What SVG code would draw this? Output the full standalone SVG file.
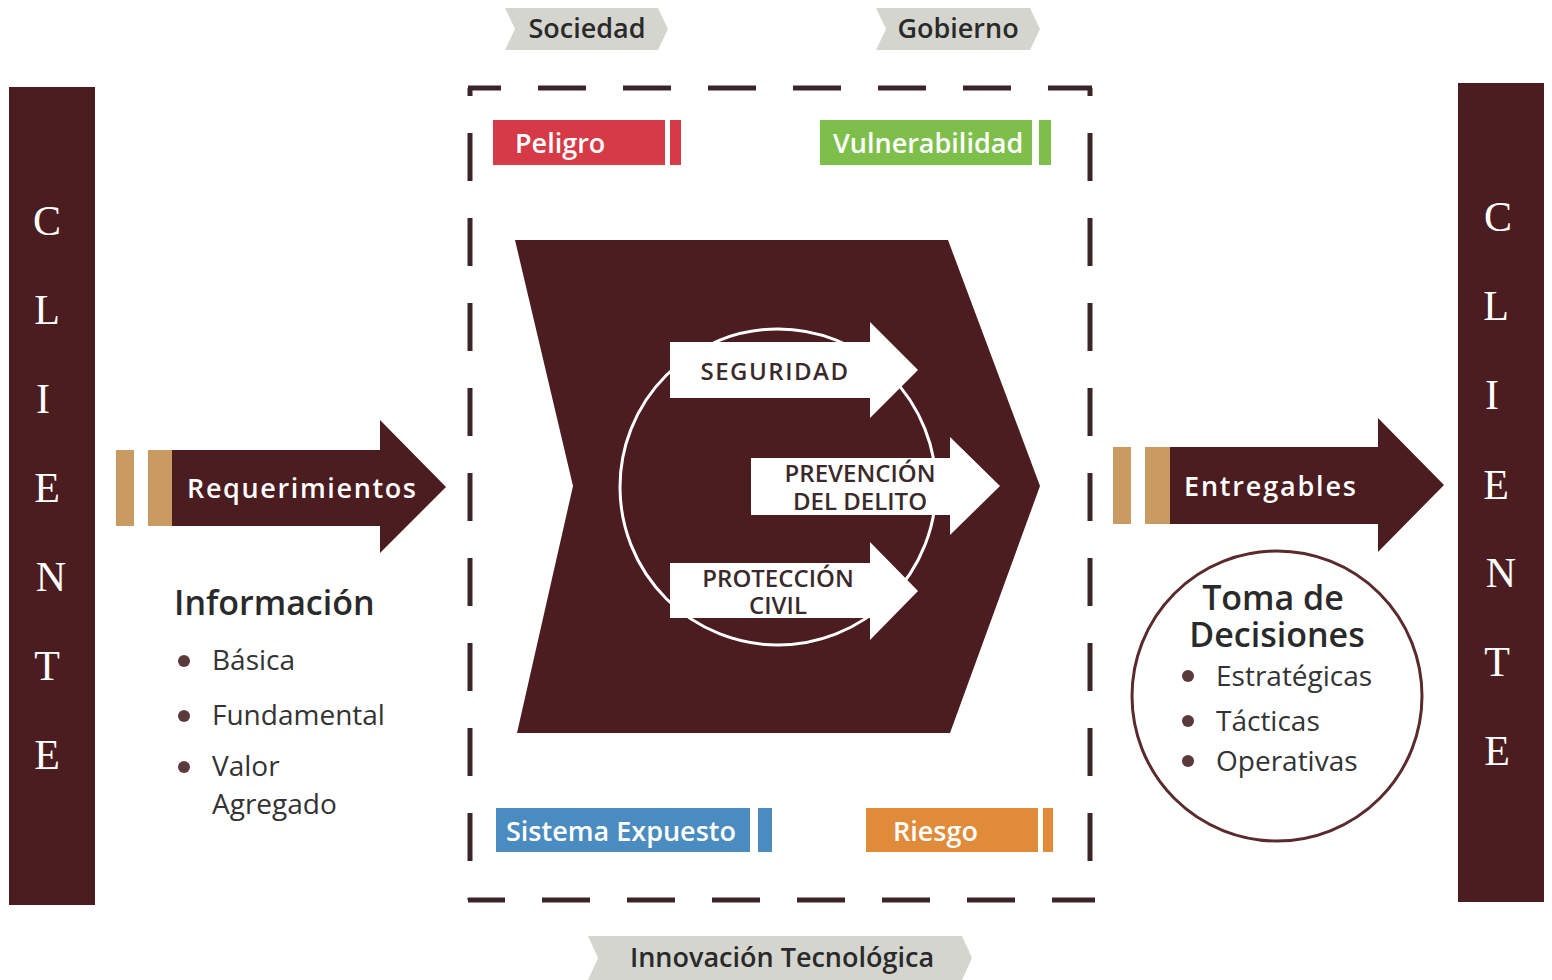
<svg xmlns="http://www.w3.org/2000/svg" width="1552" height="980" viewBox="0 0 1552 980">
<style>
.bar{fill:#4b1c20}
.cl{font-family:"Liberation Serif",serif;font-size:42px;fill:#fff;text-anchor:middle}
.tag{fill:#d5d5cf}
.tagt{font-family:"Open Sans","Liberation Sans",sans-serif;font-weight:600;font-size:27px;fill:#2a2a2a;text-anchor:middle}
.box{font-family:"Open Sans","Liberation Sans",sans-serif;font-weight:600;font-size:27px;fill:#fff}
.dash{fill:none;stroke:#3b2528;stroke-width:5;stroke-dasharray:48 37;stroke-linecap:butt}
.wa{fill:#fff}
.wt{font-family:"Open Sans","Liberation Sans",sans-serif;font-weight:600;font-size:24px;fill:#3a2a2b;text-anchor:middle}
.big{fill:#4b1c20}
.tan{fill:#c99a62}
.head{font-family:"Open Sans","Liberation Sans",sans-serif;font-weight:600;font-size:34px;fill:#2a2a2a}
.item{font-family:"Open Sans","Liberation Sans",sans-serif;font-size:28px;fill:#333}
.dot{fill:#5a3a3d}
</style>

<g id="cliente-left">
<rect class="bar" x="9" y="87" width="86" height="818"/>
<text class="cl" x="47" y="235">C</text>
<text class="cl" x="47" y="324">L</text>
<text class="cl" x="43" y="413">I</text>
<text class="cl" x="47" y="502">E</text>
<text class="cl" x="51" y="591">N</text>
<text class="cl" x="47" y="680">T</text>
<text class="cl" x="47" y="769">E</text>
</g>

<g id="cliente-right">
<rect class="bar" x="1458" y="83" width="86" height="819"/>
<text class="cl" x="1498" y="231">C</text>
<text class="cl" x="1496" y="320">L</text>
<text class="cl" x="1492" y="409">I</text>
<text class="cl" x="1496" y="499">E</text>
<text class="cl" x="1501" y="587">N</text>
<text class="cl" x="1497" y="676">T</text>
<text class="cl" x="1497" y="765">E</text>
</g>

<g id="sociedad">
<polygon class="tag" points="505,8 658,8 668,29 658,50 505,50 515,29"/>
<text class="tagt" x="587" y="38">Sociedad</text>
</g>
<g id="gobierno">
<polygon class="tag" points="876,8 1030,8 1040,29 1030,50 876,50 886,29"/>
<text class="tagt" x="958" y="38">Gobierno</text>
</g>
<g id="innovacion">
<polygon class="tag" points="588,936 962,936 972,958 962,980 588,980 598,958"/>
<text class="tagt" x="782" y="967">Innovación Tecnológica</text>
</g>

<g id="frame">
<path class="dash" d="M468,88 H1092" stroke-dashoffset="15"/>
<path class="dash" d="M470,88 V900" stroke-dashoffset="40"/>
<path class="dash" d="M1090,88 V900" stroke-dashoffset="40"/>
<path class="dash" d="M468,900 H1095" stroke-dashoffset="11"/>
</g>

<g id="peligro">
<rect x="493" y="120" width="172" height="45" fill="#d63a47"/>
<rect x="670" y="120" width="11" height="45" fill="#d63a47"/>
<text class="box" x="515" y="153">Peligro</text>
</g>
<g id="vulnerabilidad">
<rect x="820" y="120" width="212" height="45" fill="#7dbf4a"/>
<rect x="1039" y="120" width="12" height="45" fill="#7dbf4a"/>
<text class="box" x="833" y="153">Vulnerabilidad</text>
</g>
<g id="sistema-expuesto">
<rect x="496" y="808" width="254" height="44" fill="#4a8cc0"/>
<rect x="758" y="808" width="14" height="44" fill="#4a8cc0"/>
<text class="box" x="506" y="841">Sistema Expuesto</text>
</g>
<g id="riesgo">
<rect x="866" y="808" width="172" height="44" fill="#e08b3a"/>
<rect x="1043" y="808" width="10" height="44" fill="#e08b3a"/>
<text class="box" x="893" y="841">Riesgo</text>
</g>

<g id="proceso">
<polygon class="big" points="515,240 948,240 1040,486 950,733 517,733 573,486"/>
<circle cx="778" cy="487" r="158" fill="none" stroke="#fff" stroke-width="3"/>
</g>

<g id="seguridad">
<polygon class="wa" points="670,342 870,342 870,322 918,370 870,418 870,398 670,398"/>
<text class="wt" x="775" y="380" letter-spacing="1.5">SEGURIDAD</text>
</g>
<g id="prevencion">
<polygon class="wa" points="751,458 950,458 950,437 1000,486 950,535 950,515 751,515"/>
<text class="wt" x="860" y="482">PREVENCIÓN</text>
<text class="wt" x="860" y="510">DEL DELITO</text>
</g>
<g id="proteccion">
<polygon class="wa" points="670,563 870,563 870,542 918,591 870,640 870,618 670,618"/>
<text class="wt" x="778" y="587">PROTECCIÓN</text>
<text class="wt" x="778" y="614">CIVIL</text>
</g>

<g id="requerimientos">
<rect class="tan" x="116" y="450" width="18" height="76"/>
<rect class="tan" x="148" y="450" width="25" height="76"/>
<polygon class="big" points="172,450 380,450 380,420 446,487 380,553 380,526 172,526"/>
<text class="box" x="187" y="498" font-size="33" textLength="229" lengthAdjust="spacing">Requerimientos</text>
</g>

<g id="informacion">
<text class="head" x="174" y="615">Información</text>
<circle class="dot" cx="184" cy="661" r="6"/>
<circle class="dot" cx="184" cy="716" r="6"/>
<circle class="dot" cx="184" cy="767" r="6"/>
<text class="item" x="212" y="670">Básica</text>
<text class="item" x="212" y="725">Fundamental</text>
<text class="item" x="212" y="776">Valor</text>
<text class="item" x="212" y="814">Agregado</text>
</g>

<g id="entregables">
<rect class="tan" x="1113" y="447" width="18" height="77"/>
<rect class="tan" x="1145" y="447" width="26" height="77"/>
<polygon class="big" points="1170,447 1378,447 1378,418 1444,485 1378,552 1378,524 1170,524"/>
<text class="box" x="1184" y="496" font-size="33" textLength="172" lengthAdjust="spacing">Entregables</text>
</g>

<g id="toma-decisiones">
<circle cx="1277" cy="696" r="145" fill="#fff" stroke="#5a2a2d" stroke-width="3"/>
<text class="head" x="1273" y="610" text-anchor="middle">Toma de</text>
<text class="head" x="1277" y="647" text-anchor="middle">Decisiones</text>
<circle class="dot" cx="1188" cy="676" r="6"/>
<circle class="dot" cx="1188" cy="721" r="6"/>
<circle class="dot" cx="1188" cy="761" r="6"/>
<text class="item" x="1216" y="686">Estratégicas</text>
<text class="item" x="1216" y="731">Tácticas</text>
<text class="item" x="1216" y="771">Operativas</text>
</g>
</svg>
